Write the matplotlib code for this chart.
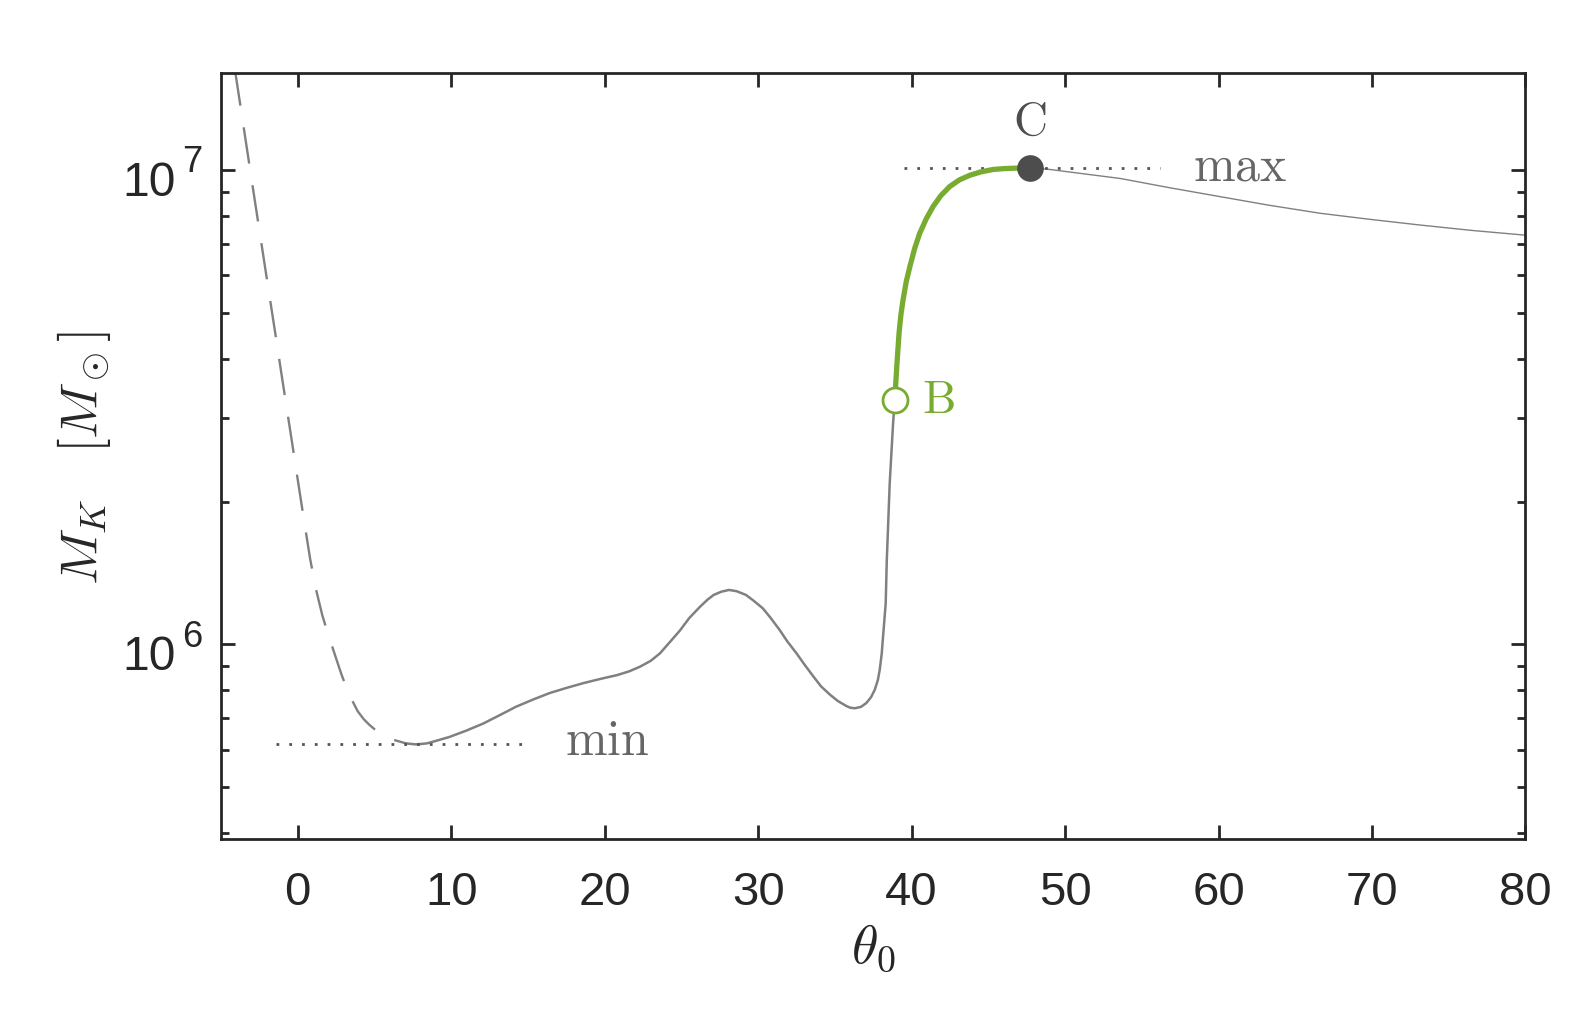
import numpy as np
import matplotlib
matplotlib.use("Agg")
import matplotlib.pyplot as plt
from matplotlib.ticker import FixedLocator, NullLocator, LogLocator, NullFormatter

plt.rcParams['font.family'] = ['Liberation Sans', 'DejaVu Sans']
plt.rcParams['mathtext.fontset'] = 'cm'

# ---------------- data ----------------
theta_dashed = [-4.1, -3.7, -3.0, -2.5, -2.0, -1.4, -1.0, -0.5, 0.0, 0.4, 0.81, 1.2, 1.6,
                1.96, 2.5, 2.85, 3.22, 3.6, 3.91, 4.3, 4.67, 5.1, 5.54, 6.0, 6.6, 7.07]
M_dashed = [1.63e7, 1.34e7, 9.5e6, 7.45e6, 5.85e6, 4.38e6, 3.6e6, 2.83e6, 2.22e6, 1.83e6,
            1.51e6, 1.30e6, 1.15e6, 1.054e6, 9.33e5, 8.63e5, 8.02e5, 7.55e5, 7.22e5,
            6.95e5, 6.76e5, 6.58e5, 6.43e5, 6.32e5, 6.24e5, 6.18e5]

theta_solid = [7.07, 7.7, 8.4, 9.1, 9.9, 11.0, 12.1, 13.2, 14.2, 15.3, 16.4, 17.5, 18.6,
               19.7, 20.8, 21.6, 22.3, 23.0, 23.6, 24.2, 24.9, 25.5, 26.2, 26.7, 27.1,
               27.6, 28.1, 28.6, 29.2, 29.7, 30.3, 30.8, 31.4, 31.9, 32.5, 33.0, 33.6,
               34.1, 34.7, 35.2, 35.75, 36.0, 36.3, 36.7, 37.05, 37.35, 37.6, 37.8, 37.92,
               38.05, 38.14, 38.22, 38.31, 38.38, 38.57, 38.79, 38.9]
M_solid = [6.18e5, 6.15e5, 6.18e5, 6.27e5, 6.38e5, 6.58e5, 6.81e5, 7.10e5, 7.38e5, 7.64e5,
           7.89e5, 8.09e5, 8.28e5, 8.45e5, 8.61e5, 8.77e5, 8.97e5, 9.23e5, 9.57e5, 1.007e6,
           1.069e6, 1.135e6, 1.199e6, 1.242e6, 1.271e6, 1.291e6, 1.302e6, 1.294e6,
           1.271e6, 1.236e6, 1.191e6, 1.138e6, 1.072e6, 1.014e6, 9.57e5, 9.08e5, 8.55e5,
           8.15e5, 7.82e5, 7.59e5, 7.41e5, 7.35e5, 7.33e5, 7.38e5, 7.52e5, 7.73e5, 8.02e5,
           8.41e5, 8.83e5, 9.55e5, 1.04e6, 1.12e6, 1.22e6, 1.50e6, 2.18e6, 2.92e6, 3.27e6]

theta_green = [38.9, 39.04, 39.18, 39.3, 39.44, 39.65, 39.88, 40.2, 40.53, 40.95, 41.4,
               41.9, 42.48, 43.1, 43.79, 44.5, 45.31, 46.0, 46.61, 47.2, 47.7]
M_green = [3.27e6, 3.89e6, 4.53e6, 4.95e6, 5.32e6, 5.82e6, 6.25e6, 6.84e6, 7.36e6, 7.89e6,
           8.38e6, 8.83e6, 9.23e6, 9.53e6, 9.75e6, 9.91e6, 1.003e7, 1.007e7, 1.009e7,
           1.0097e7, 1.01e7]

theta_right = [47.7, 48.8, 51.0, 53.6, 56.8, 60.1, 63.3, 66.6, 69.9, 73.1, 76.5, 80.0]
M_right = [1.01e7, 1.005e7, 9.84e6, 9.60e6, 9.18e6, 8.79e6, 8.43e6, 8.11e6, 7.87e6, 7.66e6,
           7.46e6, 7.29e6]

point_B = (38.9, 3.27e6)
point_C = (47.7, 1.01e7)
M_min = 6.15e5
M_max = 1.01e7
min_line_theta = [-1.4, 15.2]
max_line_theta = [39.5, 56.2]

x_ticks = [0, 10, 20, 30, 40, 50, 60, 70, 80]
y_major = [1e6, 1e7]

# ---------------- styling ----------------
GRAY = '#808080'
DARK = '#4d4d4d'
GREEN = '#77AC30'
AX = '#262626'

fig = plt.figure(figsize=(7.89, 5.175), dpi=200)
ax = fig.add_axes([0.1401, 0.1891, 0.8266, 0.7401])
ax.set_yscale('log')

ax.plot(theta_dashed, M_dashed, color=GRAY, lw=0.85, linestyle=(0, (15.5, 9.3)),
        dash_capstyle='butt', dash_joinstyle='round')
ax.plot(theta_solid, M_solid, color=GRAY, lw=0.9, solid_joinstyle='round')
ax.plot(theta_right, M_right, color=GRAY, lw=0.5)

ax.plot(min_line_theta, [M_min, M_min], color='#555555', lw=1.0, linestyle=(0, (1, 3.6)))
ax.plot(max_line_theta, [M_max, M_max], color='#555555', lw=1.0, linestyle=(0, (1, 3.6)))

ax.plot(theta_green, M_green, color=GREEN, lw=1.9, solid_capstyle='butt',
        solid_joinstyle='round')

ax.plot([point_B[0]], [point_B[1]], 'o', ms=9.0, mfc='white', mec=GREEN, mew=1.0, zorder=5)
ax.plot([point_C[0]], [point_C[1]], 'o', ms=9.6, mfc=DARK, mec=DARK, mew=0, zorder=5)

ax.text(point_B[0] + 1.75, 3.07e6, r'$\mathrm{B}$', color=GREEN, fontsize=17,
        ha='left', va='baseline')
ax.text(point_C[0], 1.185e7, r'$\mathrm{C}$', color=DARK, fontsize=17,
        ha='center', va='baseline')
ax.text(17.38, 5.84e5, r'$\mathrm{min}$', color='#666666', fontsize=18,
        ha='left', va='baseline')
ax.text(58.34, 9.49e6, r'$\mathrm{max}$', color='#666666', fontsize=18,
        ha='left', va='baseline')

ax.set_xlim(-5, 80)
ax.set_ylim(3.88e5, 1.6e7)

ax.xaxis.set_major_locator(FixedLocator(x_ticks))
ax.xaxis.set_minor_locator(NullLocator())
ax.yaxis.set_major_locator(FixedLocator(y_major))
ax.yaxis.set_minor_locator(LogLocator(base=10, subs=np.arange(2, 10)))
ax.yaxis.set_minor_formatter(NullFormatter())
ax.yaxis.set_major_formatter(NullFormatter())

# y tick labels as "10" with a large superscript exponent
for v in y_major:
    ax.annotate('10', xy=(0, v), xycoords=('axes fraction', 'data'),
                xytext=(-16.3, -9.25), textcoords='offset points',
                ha='right', va='baseline', fontsize=17.3, color=AX)
    ax.annotate('%d' % int(round(np.log10(v))), xy=(0, v),
                xycoords=('axes fraction', 'data'),
                xytext=(-14.0, -0.86), textcoords='offset points',
                ha='left', va='baseline', fontsize=13.1, color=AX)

for s in ax.spines.values():
    s.set_color(AX)
    s.set_linewidth(1.0)
ax.tick_params(which='both', direction='in', top=True, right=True, color=AX,
               labelcolor=AX, width=1.0)
ax.tick_params(which='major', length=5.2, labelsize=17)
ax.tick_params(which='minor', length=3.0)
ax.tick_params(axis='x', which='major', pad=11.4)

ax.set_xlabel(r'$\theta_0$', fontsize=19.5, color=AX, va='center')
ax.xaxis.set_label_coords(0.5, -0.1413)
ax.set_ylabel(r'$M_K\quad[M_\odot]$', fontsize=19, color=AX, va='center')
ax.yaxis.set_label_coords(-0.105, 0.498)

fig.savefig('out.png', dpi=200)
